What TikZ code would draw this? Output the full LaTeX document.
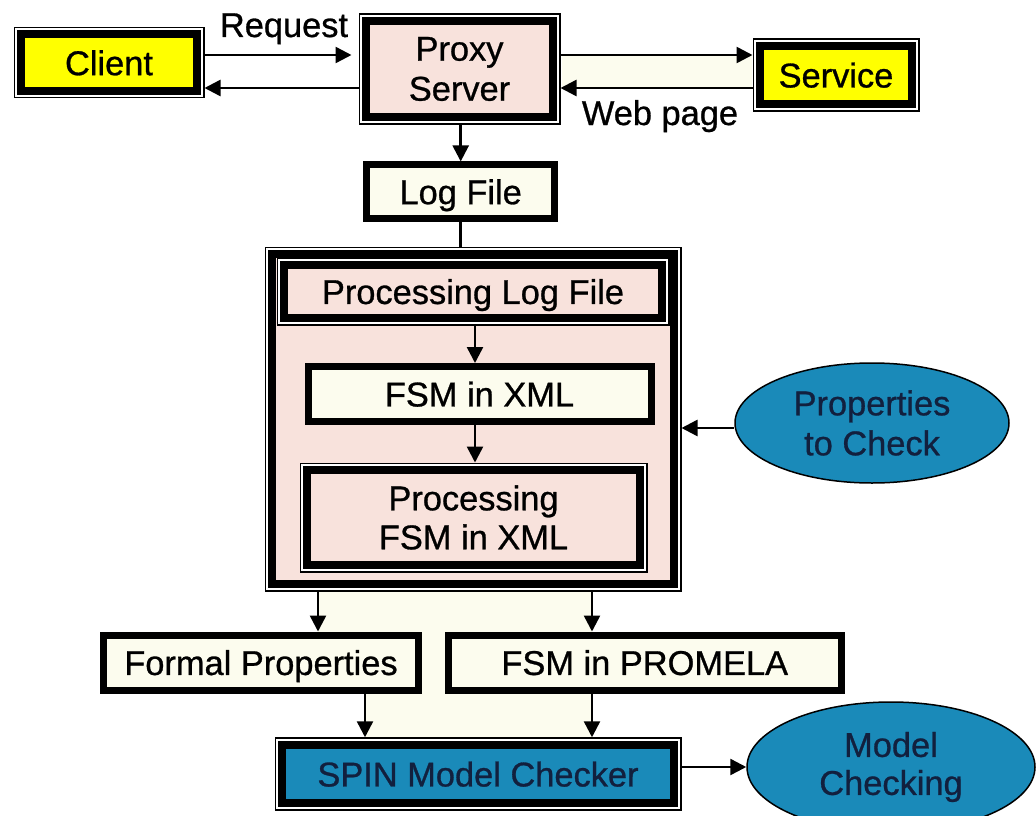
\documentclass[tikz,border=0pt]{standalone}
\usepackage{fontspec}
\setmainfont{Liberation Sans}[FakeBold=0.8]
\usetikzlibrary{arrows.meta,shapes.geometric}

\definecolor{boxyellow}{RGB}{255,255,0}
\definecolor{boxpink}{RGB}{248,226,220}
\definecolor{boxcream}{RGB}{252,252,238}
\definecolor{boxteal}{RGB}{26,138,185}
\definecolor{tealtext}{RGB}{18,32,62}

\tikzset{
  box/.style={rectangle, draw=black, line width=7pt, inner sep=0pt, align=center},
  oneline/.style={text depth=0pt},
  dblbox/.style={box, line width=8pt, outer sep=7.5pt,
    preaction={draw=black, line width=15pt},
    preaction={draw=white, line width=12pt}},
  oval/.style={ellipse, draw=black, line width=1.5pt, fill=boxteal,
    text=tealtext, align=center, inner sep=0pt},
  conn/.style={line width=2.5pt, -{Triangle[length=16pt,width=16pt]}},
  link/.style={line width=2.5pt},
  lbl/.style={anchor=base, inner sep=0pt},
}

\begin{document}
\begin{tikzpicture}[x=1pt, y=-1pt, font=\fontsize{34.4}{40}\selectfont]
\useasboundingbox (0,0) rectangle (1036,816);
\clip (0,0) rectangle (1036,816);
\fill[white] (0,0) rectangle (1036,816);

% light bands behind the connector pairs
\fill[boxcream] (562,55) rectangle (752,88);
\fill[boxcream] (318,592) -- (592,592) -- (592,738) -- (365,738)
  -- (365,650) -- (318,650) -- cycle;

% top row
\node[dblbox, oneline, fill=boxyellow, minimum width=176pt, minimum height=56.5pt]
  (client) at (109,62.7) {Client};
\node[dblbox, fill=boxpink, minimum width=187pt, minimum height=96.5pt]
  (proxy) at (459.5,69) {Proxy\\Server};
\node[dblbox, oneline, fill=boxyellow, minimum width=152pt, minimum height=58pt]
  (service) at (836,75) {Service};
\node[box, oneline, fill=boxcream, minimum width=188.5pt, minimum height=53.5pt]
  (logfile) at (460.7,191.7) {Log File};

% processing stage
\node[dblbox, fill=boxpink, minimum width=402pt, minimum height=330pt]
  (stage) at (473,419) {};
\node[dblbox, oneline, fill=boxpink, minimum width=378pt, minimum height=53pt]
  (plf) at (473,291.5) {Processing Log File};
\node[box, oneline, fill=boxcream, minimum width=343pt, minimum height=55pt]
  (fsm) at (479.5,394) {FSM in XML};
\node[dblbox, fill=boxpink, minimum width=333pt, minimum height=95pt]
  (pfsm) at (473.5,517.5) {Processing\\[-1pt]FSM in XML};

\node[oval, minimum width=274pt, minimum height=120pt]
  (props) at (872,423) {Properties\\to Check};

% outputs
\node[box, oneline, fill=boxcream, minimum width=315.5pt, minimum height=55pt]
  (formal) at (261,662.5) {Formal Properties};
\node[box, oneline, fill=boxcream, minimum width=392.5pt, minimum height=55pt]
  (promela) at (644.75,662.5) {FSM in PROMELA};
\node[dblbox, oneline, fill=boxteal, text=tealtext, minimum width=392pt, minimum height=58.5pt]
  (spin) at (478,774) {SPIN Model Checker};
\node[oval, minimum width=288pt, minimum height=130pt]
  (mc) at (891,767) {Model\\[-2pt]Checking};

% labels
\node[lbl] (reqlbl) at (284,37) {Request};
\node[lbl] (weblbl) at (660,125) {Web page};

% connector levels
\coordinate (yreq) at (0,55);
\coordinate (yrep) at (0,88);
\coordinate (xin) at (475,0);
\coordinate (ychk) at (0,428);
\coordinate (xl) at (318,0);
\coordinate (xr) at (592,0);
\coordinate (xf) at (365,0);
\coordinate (ymc) at (0,767);

\draw[conn, shorten >=7pt] (client.east |- yreq) -- (proxy.west |- yreq);
\draw[conn] (proxy.west |- yrep) -- (client.east |- yrep);
\draw[conn] (proxy.east |- yreq) -- (service.west |- yreq);
\draw[conn] (service.west |- yrep) -- (proxy.east |- yrep);

\draw[conn] (proxy.south -| logfile.north) -- (logfile.north);
\draw[link] (logfile.south) -- (logfile.south |- stage.north);

\draw[conn] (plf.south -| xin) -- (fsm.north -| xin);
\draw[conn] (fsm.south -| xin) -- (pfsm.north -| xin);

\draw[conn] (props.west |- ychk) -- (stage.east |- ychk);

\draw[conn] (stage.south -| xl) -- (formal.north -| xl);
\draw[conn] (stage.south -| xr) -- (promela.north -| xr);
\draw[conn] (formal.south -| xf) -- (spin.north -| xf);
\draw[conn] (promela.south -| xr) -- (spin.north -| xr);

\draw[conn] (spin.east |- ymc) -- (mc.west |- ymc);
\end{tikzpicture}
\end{document}
